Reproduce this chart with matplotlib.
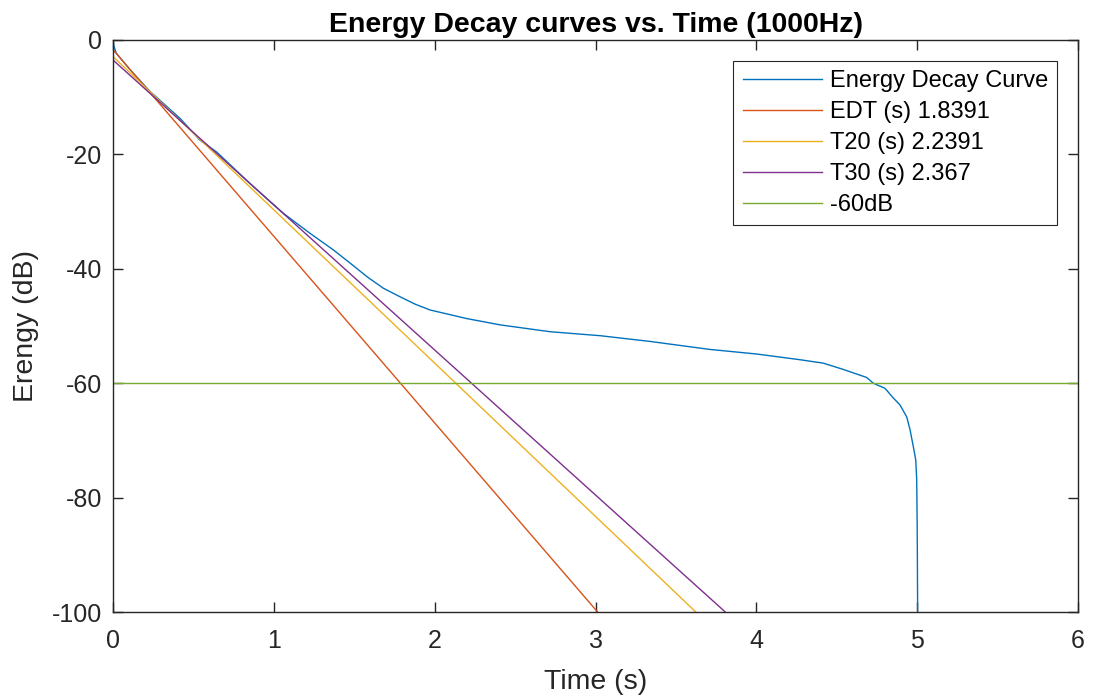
import matplotlib.pyplot as plt
import numpy as np

plt.rcParams['font.family'] = ['Liberation Sans', 'DejaVu Sans']
plt.rcParams['axes.unicode_minus'] = False

# Energy decay curve (time in s, energy in dB)
edc_t = [0.0, 0.005, 0.02, 0.1, 0.23, 0.29, 0.42, 0.54, 0.645, 0.852, 1.059, 1.225,
         1.37, 1.474, 1.58, 1.681, 1.785, 1.88, 1.971, 2.199, 2.406, 2.717, 3.03, 3.339,
         3.712, 4.002, 4.272, 4.417, 4.541, 4.686, 4.727, 4.8, 4.852, 4.893, 4.935,
         4.956, 4.976, 4.991, 4.997, 5.0, 5.003]
edc_db = [0.0, -1.0, -2.3, -5.0, -9.0, -10.5, -13.8, -17.5, -19.6, -25.1, -30.3, -33.8,
          -36.7, -39.0, -41.4, -43.4, -44.9, -46.2, -47.2, -48.7, -49.8, -51.0, -51.7,
          -52.7, -54.1, -54.9, -55.9, -56.5, -57.6, -59.0, -60.0, -60.9, -62.6, -63.8,
          -65.9, -68.2, -71.1, -73.4, -76.9, -85.0, -100.5]

# Fitted decay lines: decay time (s) and intercept at t=0 (dB)
fit_labels = ['EDT (s) 1.8391', 'T20 (s) 2.2391', 'T30 (s) 2.367']
fit_times = [1.8391, 2.2391, 2.367]
fit_intercepts = [-1.7, -2.9, -3.5]
fit_colors = ['#D95319', '#EDB120', '#7E2F8E']

ref_level = -60

fig = plt.figure(figsize=(10.95, 7.0), dpi=100)
ax = fig.add_axes([0.1032, 0.1257, 0.8813, 0.8172])

ax.plot(edc_t, edc_db, color='#0072BD', lw=1.0, label='Energy Decay Curve')
t = np.linspace(0, 6, 200)
for lab, T, b, c in zip(fit_labels, fit_times, fit_intercepts, fit_colors):
    ax.plot(t, b - 60.0 / T * t, color=c, lw=1.0, label=lab)
ax.axhline(ref_level, color='#77AC30', lw=1.0, label='-60dB')

ax.set_xlim(0, 6)
ax.set_ylim(-100, 0)
ax.set_xticks(range(0, 7))
ax.set_yticks(range(-100, 1, 20))
ax.tick_params(direction='in', length=7, width=1.0, top=True, right=True,
               labelsize=18, colors='#262626')
ax.tick_params(axis='x', pad=12)
ax.tick_params(axis='y', pad=8)
for s in ax.spines.values():
    s.set_linewidth(1.0)
    s.set_color('#262626')

ax.set_xlabel('Time (s)', fontsize=20.5, color='#262626', labelpad=12)
ax.set_ylabel('Erengy (dB)', fontsize=20.5, color='#262626', labelpad=9)
ax.set_title('Energy Decay curves vs. Time (1000Hz)', fontsize=20.5,
             fontweight='bold', pad=6)

leg = ax.legend(loc='upper right', bbox_to_anchor=(0.9786, 0.9638), fontsize=17,
                frameon=True, fancybox=False, edgecolor='#262626', framealpha=1,
                handlelength=3.35, handletextpad=0.33, borderpad=0.4,
                labelspacing=0.38, borderaxespad=0)
leg.get_frame().set_linewidth(0.8)

fig.savefig('out.png', dpi=100)
